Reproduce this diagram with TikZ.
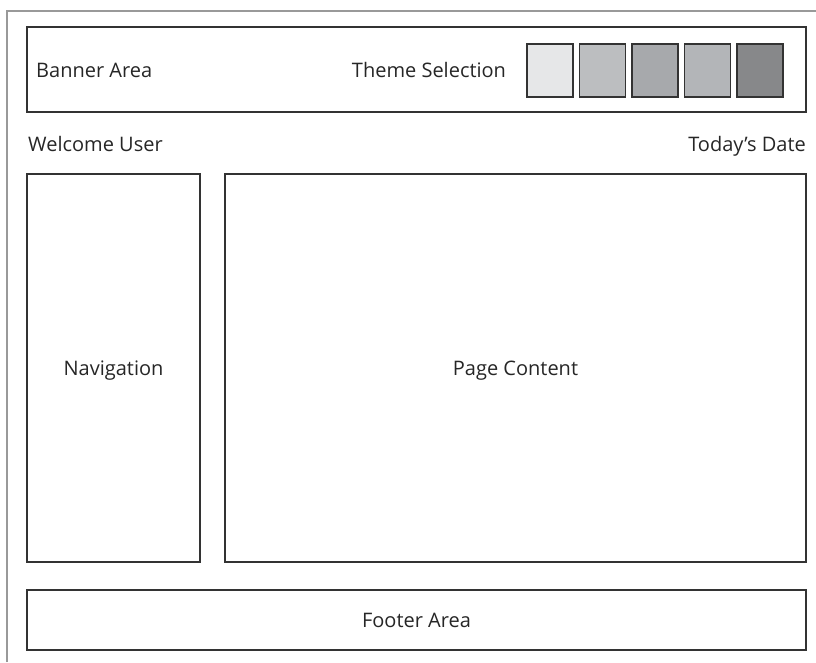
\documentclass[tikz,border=0pt]{standalone}
\usepackage{fontspec}
\setmainfont{Open Sans}

\begin{document}
\begin{tikzpicture}[x=1pt, y=-1pt,
  area/.style={draw=black!80, line width=1.4pt, inner sep=0pt, outer sep=0pt, anchor=north west},
  swatch/.style={area, minimum width=46pt, minimum height=53pt},
  lbl/.style={font=\fontsize{20}{24}\selectfont, text=black!85, inner sep=0pt, anchor=base}]
\useasboundingbox (0,0) rectangle (816,662);

% page frame
\coordinate (frameBL) at (7,662);
\coordinate (frameTL) at (7,11);
\coordinate (frameTR) at (816,11);
\draw[black!40, line width=1.5pt] (frameBL) -- (frameTL) -- (frameTR);

% banner
\node[area, minimum width=779pt, minimum height=85pt] (banner) at (27,27) {};
\node[lbl, anchor=base west] (bannerText) at (36,77) {Banner Area};
\node[lbl] (theme) at (429,77) {Theme Selection};

\definecolor{swA}{HTML}{E6E7E8}
\definecolor{swB}{HTML}{BCBEC0}
\definecolor{swC}{HTML}{A7A9AC}
\definecolor{swD}{HTML}{B3B5B8}
\definecolor{swE}{HTML}{87888A}

\foreach \i/\c in {0/swA,1/swB,2/swC,3/swD,4/swE} {
	\node[swatch, fill=\c] (sw\i) at (527+52.5*\i,44) {};
}

% user line
\node[lbl, anchor=base west] (welcome) at (28,151) {Welcome User};
\node[lbl, anchor=base east] (date) at (806,151) {Today’s Date};

% main areas
\node[area, minimum width=173pt, minimum height=388pt] (nav) at (27,174) {};
\node[lbl] (navText) at (113.5,375) {Navigation};

\node[area, minimum width=581pt, minimum height=388pt] (content) at (225,174) {};
\node[lbl] (contentText) at (515.5,375) {Page Content};

\node[area, minimum width=779pt, minimum height=60pt] (footer) at (27,590) {};
\node[lbl] (footerText) at (416.5,627) {Footer Area};

\end{tikzpicture}
\end{document}
